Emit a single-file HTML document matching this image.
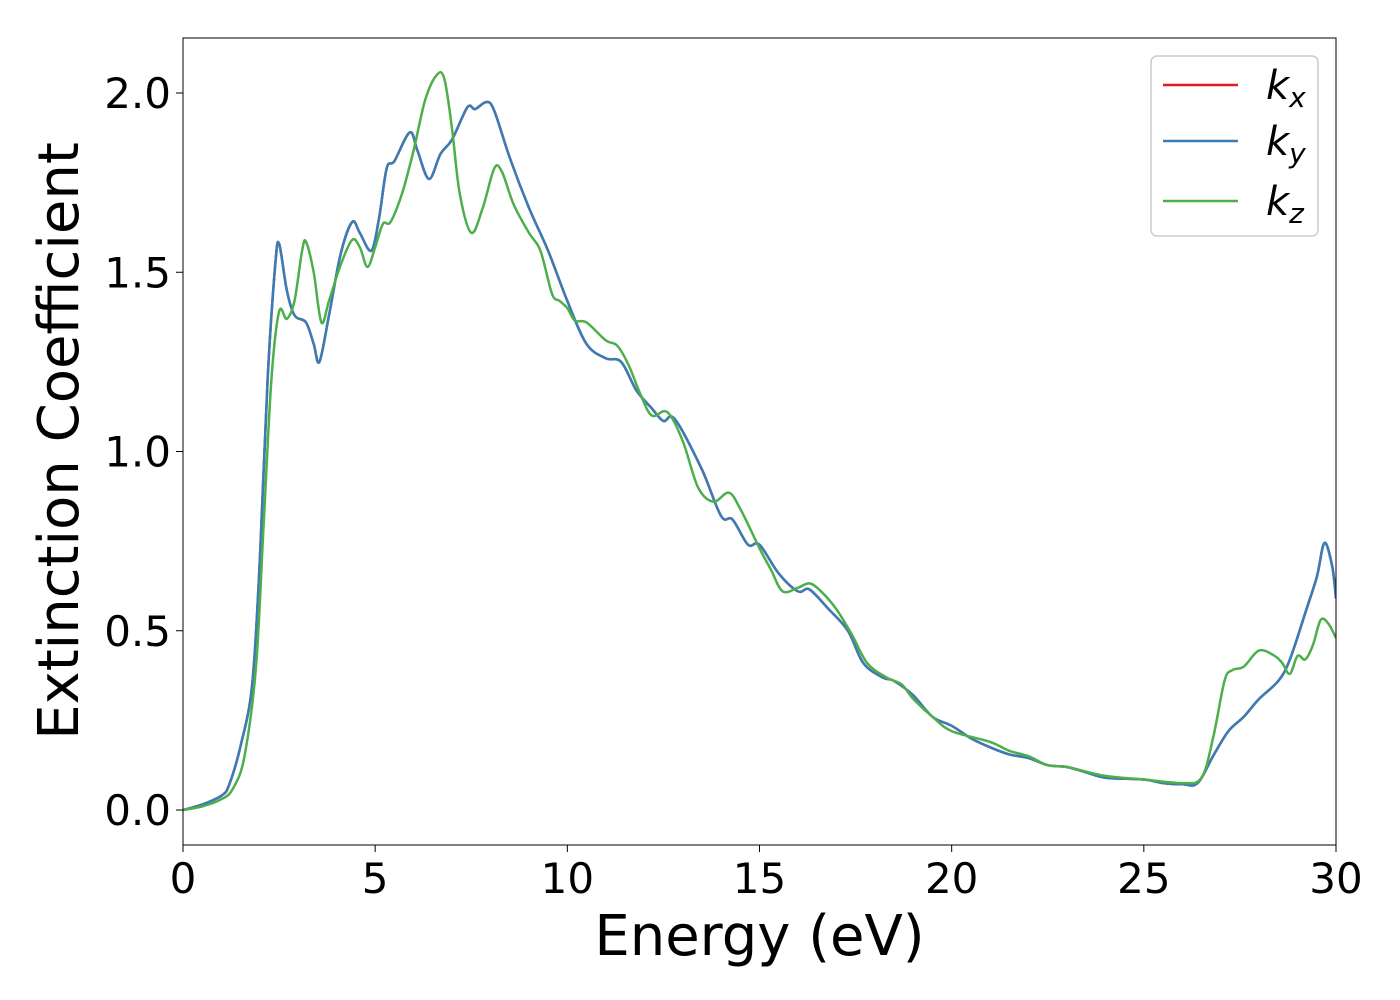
<!DOCTYPE html>
<html><head><meta charset="utf-8"><style>
html,body{margin:0;padding:0;background:#fff;width:1400px;height:1000px;overflow:hidden}
svg text{font-family:"DejaVu Sans","Liberation Sans",sans-serif;fill:#000}
</style></head><body>
<svg id="chart" width="1400" height="1000" xmlns="http://www.w3.org/2000/svg">
<g id="plot"></g>
</svg>
<script>
const kyX=[0,0.5,1,1.2,1.5,1.8,2.0,2.2,2.4,2.5,2.7,2.9,3.2,3.4,3.55,3.8,4.1,4.4,4.6,4.9,5.1,5.3,5.5,5.9,6.1,6.4,6.7,7.0,7.4,7.6,7.9,8.1,8.5,9,9.5,10,10.5,11,11.4,11.8,12.2,12.5,12.8,13.5,14,14.3,14.7,15,15.5,16,16.3,16.8,17.3,17.7,18.2,18.5,19,19.5,20,20.5,21,21.5,22,22.5,23,23.5,24,25,25.5,26,26.4,26.8,27.2,27.6,28,28.5,28.8,29.2,29.5,29.7,29.9,30];
const kyY=[0,0.015,0.04,0.07,0.18,0.35,0.7,1.2,1.52,1.58,1.45,1.38,1.36,1.3,1.25,1.38,1.55,1.64,1.61,1.56,1.65,1.79,1.81,1.89,1.84,1.76,1.83,1.87,1.96,1.955,1.975,1.95,1.82,1.68,1.56,1.42,1.3,1.26,1.25,1.17,1.12,1.085,1.09,0.95,0.82,0.81,0.74,0.74,0.66,0.61,0.615,0.56,0.5,0.41,0.37,0.36,0.32,0.26,0.235,0.2,0.175,0.155,0.145,0.125,0.12,0.105,0.09,0.085,0.075,0.072,0.075,0.15,0.22,0.26,0.31,0.36,0.42,0.55,0.65,0.745,0.68,0.59];
const kzX=[0,0.5,1,1.3,1.6,1.9,2.1,2.3,2.5,2.7,2.9,3.1,3.2,3.4,3.6,3.8,4.1,4.4,4.6,4.8,5.0,5.2,5.4,5.7,6.0,6.3,6.6,6.8,7.0,7.2,7.5,7.8,8.1,8.3,8.6,9,9.3,9.6,9.8,10,10.2,10.5,11,11.3,11.6,11.9,12.2,12.6,13,13.4,13.8,14.2,14.5,15,15.3,15.6,16,16.3,16.6,17,17.4,17.8,18.3,18.7,19,19.5,20,21,21.5,22,22.5,23,24,25,26,26.5,26.8,27.1,27.3,27.6,28,28.4,28.6,28.8,29.0,29.2,29.4,29.6,29.8,30];
const kzY=[0,0.01,0.03,0.06,0.15,0.4,0.8,1.2,1.39,1.37,1.42,1.56,1.585,1.5,1.36,1.42,1.52,1.59,1.57,1.515,1.57,1.635,1.64,1.72,1.84,1.98,2.05,2.04,1.9,1.72,1.61,1.68,1.79,1.78,1.69,1.61,1.56,1.44,1.42,1.4,1.365,1.36,1.31,1.295,1.24,1.16,1.10,1.11,1.03,0.9,0.86,0.885,0.84,0.73,0.67,0.61,0.62,0.632,0.61,0.56,0.49,0.41,0.37,0.35,0.31,0.26,0.22,0.19,0.165,0.15,0.125,0.12,0.095,0.085,0.075,0.09,0.2,0.36,0.39,0.40,0.445,0.43,0.41,0.38,0.43,0.42,0.46,0.53,0.52,0.48];
const xTicks=[0,5,10,15,20,25,30];
const yTicks=[0.0,0.5,1.0,1.5,2.0];
const seriesNames=["k_x","k_y","k_z"];

const NS="http://www.w3.org/2000/svg";
const L=183,R=1336,T=38,B=845;
const sx=v=>L+(v/30)*(R-L);
const sy=v=>810-v*358.5;
const g=document.getElementById('plot');
function mk(tag,attrs,parent){const e=document.createElementNS(NS,tag);for(const k in attrs)e.setAttribute(k,attrs[k]);(parent||g).appendChild(e);return e;}
function pathFor(xs,ys){
  const p=xs.map((x,i)=>[sx(x),sy(ys[i])]);
  let d="M"+p[0][0].toFixed(1)+","+p[0][1].toFixed(1);
  for(let i=0;i<p.length-1;i++){
    const p0=p[i-1]||p[i],p1=p[i],p2=p[i+1],p3=p[i+2]||p[i+1];
    const c1=[p1[0]+(p2[0]-p0[0])/6,p1[1]+(p2[1]-p0[1])/6];
    const c2=[p2[0]-(p3[0]-p1[0])/6,p2[1]-(p3[1]-p1[1])/6];
    d+=" C"+c1.map(v=>v.toFixed(1))+" "+c2.map(v=>v.toFixed(1))+" "+p2.map(v=>v.toFixed(1));
  }
  return d;
}
const clip=mk('clipPath',{id:'cp'});mk('rect',{x:L,y:T,width:R-L,height:B-T},clip);
let e;
e=mk('path',{d:pathFor(kyX,kyY),fill:'none',stroke:'#e41a1c','stroke-width':2.5,'clip-path':'url(#cp)'});

e=mk('path',{d:pathFor(kyX,kyY),fill:'none',stroke:'#377eb8','stroke-width':2.5,'clip-path':'url(#cp)'});

e=mk('path',{d:pathFor(kzX,kzY),fill:'none',stroke:'#4daf4a','stroke-width':2.5,'clip-path':'url(#cp)'});

e=mk('rect',{x:L,y:T,width:R-L,height:B-T,fill:'none',stroke:'#000','stroke-width':1});

xTicks.forEach(t=>{
  mk('line',{x1:sx(t),x2:sx(t),y1:B,y2:B+7,stroke:'#000','stroke-width':1});
  e=mk('text',{x:sx(t),y:B+48,'text-anchor':'middle','font-size':42});e.textContent=t;
  
});
yTicks.forEach(t=>{
  mk('line',{x1:L-7,x2:L,y1:sy(t),y2:sy(t),stroke:'#000','stroke-width':1});
  e=mk('text',{x:L-12,y:sy(t)+15,'text-anchor':'end','font-size':42});e.textContent=t.toFixed(1);
  
});
e=mk('text',{x:(L+R)/2,y:955,'text-anchor':'middle','font-size':56});e.textContent='Energy (eV)';

e=mk('text',{x:0,y:0,'text-anchor':'middle','font-size':56,transform:'translate(78,441) rotate(-90)'});e.textContent='Extinction Coefficient';

const lg=mk('g',{});

mk('rect',{x:1151,y:56,width:167,height:180,rx:6,fill:'#fff','fill-opacity':0.8,stroke:'#ccc','stroke-width':1.5},lg);
const cols=['#e41a1c','#377eb8','#4daf4a'],subs=['x','y','z'],ly=[85,141,201];
seriesNames.forEach((n,i)=>{
  const en=mk('g',{},lg);
  
  mk('line',{x1:1163,x2:1238,y1:ly[i],y2:ly[i],stroke:cols[i],'stroke-width':2.5},en);
  const t=mk('text',{x:1266,y:ly[i]+14,'font-size':40,'font-style':'italic'},en);
  t.textContent='k';
  const s=mk('tspan',{dy:8,'font-size':28},t);s.textContent=subs[i];
});
</script>
</body></html>
